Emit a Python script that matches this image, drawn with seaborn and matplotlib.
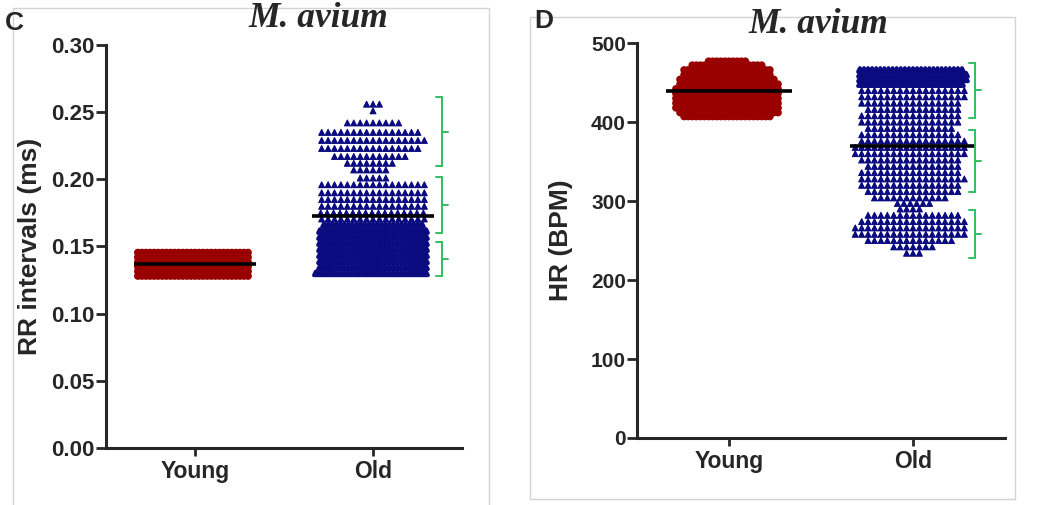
import warnings
warnings.filterwarnings('ignore')

import matplotlib.pyplot as plt
import matplotlib.patheffects as pe
from matplotlib.patches import Rectangle
import numpy as np
import pandas as pd
import seaborn as sns

groups = ['Young', 'Old']

young_rr_levels = [0.128, 0.1315, 0.135, 0.1385, 0.142, 0.1455]
young_rr_counts = [28, 28, 28, 28, 28, 28]
old_rr_levels = [0.256, 0.251, 0.242, 0.235, 0.229, 0.223, 0.217, 0.212, 0.207, 0.201,
                 0.196, 0.190, 0.185, 0.180, 0.175, 0.1705,
                 0.166, 0.1615, 0.157, 0.1525, 0.148, 0.1435, 0.139, 0.1345, 0.130]
old_rr_counts = [3, 1, 9, 16, 17, 16, 12, 8, 6, 5,
                 17, 17, 17, 17, 17, 17,
                 25, 27, 27, 27, 27, 27, 27, 27, 28]

# HR (BPM)
young_hr_levels = [407, 412, 418, 424, 430, 436, 442, 448, 454, 460, 466, 472, 477]
young_hr_counts = [22, 25, 26, 26, 26, 26, 26, 25, 24, 22, 22, 18, 10]
old_hr_levels = [466, 460, 454, 448,
                 440, 432, 424, 416, 408, 400, 392, 384, 376, 368, 360, 352, 344,
                 336, 328, 320, 312, 304, 297, 290,
                 282, 274, 266, 258, 250, 242, 234]
old_hr_counts = [26, 27, 27, 26,
                 17, 17, 16, 15, 16, 16, 14, 16, 17, 18, 18, 16, 15,
                 16, 17, 16, 15, 12, 6, 4,
                 15, 17, 18, 18, 14, 7, 3]

rr_ticks = [0.00, 0.05, 0.10, 0.15, 0.20, 0.25, 0.30]
hr_ticks = [0, 100, 200, 300, 400, 500]

# value ranges where the points pile up on top of each other
rr_dense = {'Young': (0.0, 1.0), 'Old': (0.0, 0.168)}
hr_dense = {'Young': (0, 1000), 'Old': (445, 1000)}

# green braces on the right of the Old column
rr_brackets = [(0.210, 0.261), (0.160, 0.202), (0.128, 0.153)]
hr_brackets = [(405, 475), (311, 390), (228, 289)]

red = '#990000'
navy = '#0b0b80'
green = '#2fbf5f'
markers = {'Young': 'o', 'Old': '^'}
colors = {'Young': red, 'Old': navy}

sns.set_style('ticks')
plt.rcParams['font.family'] = ['Liberation Sans', 'DejaVu Sans']
plt.rcParams['font.weight'] = 'bold'


def make_df(yl, yc, ol, oc):
    young = np.repeat(yl, yc)
    old = np.repeat(ol, oc)
    return pd.DataFrame({'group': ['Young'] * len(young) + ['Old'] * len(old),
                         'value': np.concatenate([young, old])})


def panel(ax, df, dense, ticks, labels, ylabel, brackets, bx, tick_fs):
    for g in groups:
        d = df[df.group == g]
        lo, hi = dense[g]
        inside = d.value.between(lo, hi)
        # (subset, layout size, extra stroke): dense parts overlap like the original
        for sub, sz, lw in [(d[inside], 2.8, 2.7), (d[~inside], 4.4, 0.6)]:
            if len(sub) == 0:
                continue
            n0 = len(ax.collections)
            sns.swarmplot(data=sub, x='group', y='value', order=groups, color=colors[g],
                          marker=markers[g], size=sz, linewidth=0, ax=ax)
            for coll in ax.collections[n0:]:
                coll.set_path_effects(
                    [pe.Stroke(linewidth=lw, foreground=colors[g]), pe.Normal()])

    for i, g in enumerate(groups):
        m = df.loc[df.group == g, 'value'].mean()
        ax.hlines(m, i - 0.34, i + 0.34, color='black', lw=2.6, zorder=6)

    for lo, hi in brackets:
        kw = dict(color=green, lw=1.4, clip_on=False, zorder=6)
        ax.plot([bx, bx], [lo, hi], **kw)
        ax.plot([bx - 0.03, bx], [lo, lo], **kw)
        ax.plot([bx - 0.03, bx], [hi, hi], **kw)
        ax.plot([bx, bx + 0.035], [(lo + hi) / 2] * 2, **kw)

    ax.set_xlim(-0.5, 1.5)
    ax.set_ylim(ticks[0], ticks[-1])
    ax.set_yticks(ticks)
    ax.set_yticklabels(labels, fontsize=tick_fs, fontweight='bold')
    ax.set_xticks([0, 1])
    ax.set_xticklabels(groups, fontsize=16.5, fontweight='bold')
    ax.set_xlabel('')
    ax.set_ylabel(ylabel, fontsize=19, fontweight='bold')
    sns.despine(ax=ax)
    for s in ['left', 'bottom']:
        ax.spines[s].set_linewidth(2.2)
    ax.tick_params(axis='y', length=7, width=2, pad=1)
    ax.tick_params(axis='x', length=6, width=2, pad=3)


fig = plt.figure(figsize=(10.38, 5.05), dpi=100)

# panel frames
fig.add_artist(Rectangle((0.0125, -0.01), 0.4586, 0.994, transform=fig.transFigure,
                         fill=False, ec='#d4d4d4', lw=1))
fig.add_artist(Rectangle((0.5106, 0.0119), 0.4672, 0.9544, transform=fig.transFigure,
                         fill=False, ec='#d4d4d4', lw=1))

ax_c = fig.add_axes([0.1021, 0.1129, 0.343, 0.798])
ax_d = fig.add_axes([0.6137, 0.1327, 0.3545, 0.782])

df_rr = make_df(young_rr_levels, young_rr_counts, old_rr_levels, old_rr_counts)
df_hr = make_df(young_hr_levels, young_hr_counts, old_hr_levels, old_hr_counts)

panel(ax_c, df_rr, rr_dense, rr_ticks, [f'{t:.2f}' for t in rr_ticks],
      'RR intervals (ms)', rr_brackets, 1.385, 16)
panel(ax_d, df_hr, hr_dense, hr_ticks, [str(t) for t in hr_ticks],
      'HR (BPM)', hr_brackets, 1.335, 15)

ax_c.yaxis.set_label_coords(-0.18, 0.5)
ax_d.yaxis.set_label_coords(-0.174, 0.5)

title_kw = dict(family='Liberation Serif', style='italic', weight='bold', fontsize=25.5,
                ha='center', va='baseline')
fig.text(0.307, 0.9465, 'M. avium', **title_kw)
fig.text(0.788, 0.9347, 'M. avium', **title_kw)
fig.text(0.005, 0.9406, 'C', fontsize=19, fontweight='bold', va='baseline')
fig.text(0.515, 0.9446, 'D', fontsize=19, fontweight='bold', va='baseline')

fig.savefig('out.png', dpi=100)
